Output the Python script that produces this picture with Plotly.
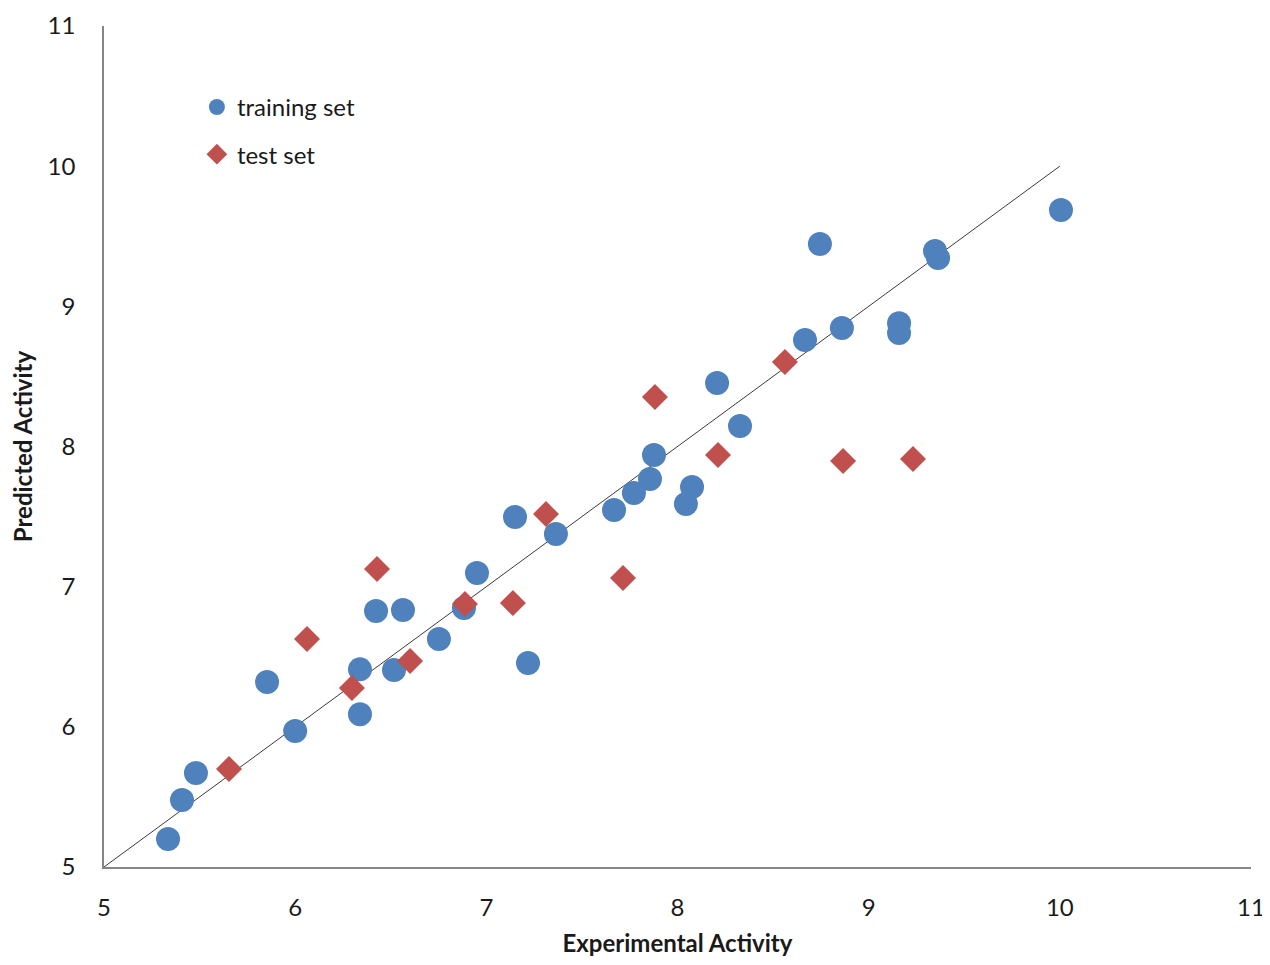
import plotly.graph_objects as go

train_x = [5.335, 5.408, 5.481, 5.853, 6.000, 6.339, 6.339, 6.423, 6.564, 6.517,
           6.752, 6.883, 6.951, 7.150, 7.218, 7.364, 7.668, 7.772, 7.856, 7.877,
           8.044, 8.076, 8.207, 8.327, 8.667, 8.745, 8.860, 9.159, 9.159, 9.347,
           9.363, 10.006]
train_y = [5.200, 5.478, 5.671, 6.320, 5.970, 6.090, 6.410, 6.826, 6.833, 6.405,
           6.627, 6.848, 7.097, 7.497, 6.455, 7.376, 7.547, 7.668, 7.768, 7.939,
           7.590, 7.711, 8.453, 8.146, 8.760, 9.445, 8.845, 8.880, 8.810, 9.395,
           9.345, 9.687]

test_x = [5.654, 6.062, 6.297, 6.428, 6.601, 6.888, 7.139, 7.312, 7.715, 7.882,
          8.212, 8.562, 8.866, 9.232]
test_y = [5.699, 6.627, 6.277, 7.126, 6.470, 6.876, 6.883, 7.518, 7.062, 8.353,
          7.939, 8.603, 7.896, 7.911]

ideal_x = [5, 10]
ideal_y = [5, 10]

font_family = "Lato, 'Open Sans', sans-serif"

fig = go.Figure()
fig.add_trace(go.Scatter(x=ideal_x, y=ideal_y, mode="lines",
                         line=dict(color="#3a3a3a", width=1),
                         showlegend=False, hoverinfo="skip"))
fig.add_trace(go.Scatter(x=train_x, y=train_y, mode="markers", name="training set",
                         legendgroup="a",
                         marker=dict(symbol="circle", size=24, color="#4F81BD",
                                     line=dict(width=0))))
fig.add_trace(go.Scatter(x=test_x, y=test_y, mode="markers", name="test set",
                         legendgroup="b",
                         marker=dict(symbol="diamond", size=20, color="#C0504D",
                                     line=dict(width=0))))

axis_common = dict(
    showgrid=False, zeroline=False, showline=True, linecolor="#868686", linewidth=1.5,
    ticks="", tickfont=dict(family=font_family, size=24, color="#1a1a1a"),
    dtick=1, automargin=False,
)

fig.update_layout(
    width=1262, height=949,
    margin=dict(l=96, r=19, t=18, b=90),
    paper_bgcolor="white", plot_bgcolor="white",
    font=dict(family=font_family, color="#1a1a1a"),
    xaxis=dict(range=[5, 11], tick0=5, ticklabelstandoff=18,
               title=dict(text="<b>Experimental Activity</b>",
                          font=dict(family=font_family, size=24), standoff=27),
               **axis_common),
    yaxis=dict(range=[5, 11], tick0=5, ticklabelstandoff=22,
               title=dict(text="<b>Predicted Activity</b>",
                          font=dict(family=font_family, size=24), standoff=14),
               **axis_common),
    legend=dict(x=0.081, y=0.93, xanchor="left", yanchor="top",
                font=dict(family=font_family, size=24, color="#1a1a1a"),
                bgcolor="rgba(0,0,0,0)", tracegroupgap=13, itemwidth=30),
    showlegend=True,
)

fig.write_html("out.html")
